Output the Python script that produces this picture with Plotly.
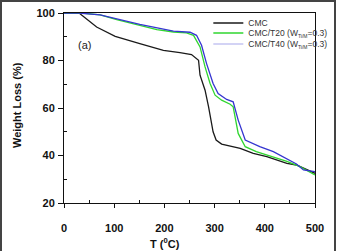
import plotly.graph_objects as go

# Data
cmc_T = [0, 30, 65, 102, 151, 198, 231, 254, 268, 271, 281, 288, 297, 303, 314, 351, 377, 404, 444, 463, 500]
cmc_W = [100, 100, 94.1, 90.2, 87.1, 84.3, 83.3, 82.5, 80.1, 73.8, 67.5, 60.5, 50.0, 46.5, 44.8, 43.0, 40.9, 39.5, 36.7, 36.0, 32.5]

t20_T = [0, 35, 72, 105, 151, 185, 218, 244, 258, 271, 281, 291, 301, 314, 331, 337, 347, 361, 383, 404, 444, 470, 500]
t20_W = [100, 100, 99.2, 97.2, 94.8, 93.0, 92.0, 91.6, 90.6, 85.7, 77.3, 70.3, 65.4, 63.3, 61.6, 60.5, 49.3, 43.7, 41.6, 40.2, 37.5, 35.3, 31.8]

t40_T = [0, 30, 72, 151, 218, 251, 264, 274, 284, 297, 307, 324, 337, 347, 361, 390, 417, 450, 463, 477, 500]
t40_W = [100, 100, 99.2, 95.2, 92.4, 91.9, 90.6, 86.4, 78.7, 70.3, 66.1, 63.6, 62.6, 54.9, 46.5, 43.7, 41.6, 38.1, 36.4, 33.9, 33.2]

sub = "<sub><span style='font-size:5px'>Ti/M</span></sub>"
names = ["CMC", "CMC/T20 (W" + sub + "=0.3)", "CMC/T40 (W" + sub + "=0.3)"]

W, H = 338, 251
ml, mr, mt, mb = 64, 23, 13, 48
pw, ph = W - ml - mr, H - mt - mb

fig = go.Figure()
fig.add_trace(go.Scatter(x=cmc_T, y=cmc_W, mode="lines", name=names[0], legend="legend",
                         line=dict(color="#1a1a1a", width=1.3)))
fig.add_trace(go.Scatter(x=t20_T, y=t20_W, mode="lines", name=names[1], legend="legend2",
                         line=dict(color="#2fd62f", width=1.3)))
fig.add_trace(go.Scatter(x=t40_T, y=t40_W, mode="lines", name=names[2], showlegend=False,
                         line=dict(color="#3535d0", width=1.3)))
# legend entry for T40 (pale line as in reference)
fig.add_trace(go.Scatter(x=[None], y=[None], mode="lines", name=names[2], legend="legend3",
                         line=dict(color="#c4c4f2", width=1.3)))

fig.add_annotation(x=40, y=86.5, text="(a)", showarrow=False,
                   font=dict(size=11, color="#222", family="Arial"))

# outer frame of the picture
fig.add_shape(type="rect", xref="paper", yref="paper",
              x0=-(ml - 1) / pw, x1=1 + (mr - 3) / pw,
              y0=-(mb + 5) / ph, y1=1 + (mt - 1) / ph,
              line=dict(color="#444", width=2), layer="below")

def leg(row_px):
    return dict(x=0.575, y=1 - (row_px - mt) / ph, xanchor="left", yanchor="middle",
                bgcolor="rgba(0,0,0,0)", font=dict(size=8.5, color="#333", family="Arial"),
                borderwidth=0)

bold = dict(size=11, family="Arial", color="#111", weight="bold")

fig.update_layout(
    width=W, height=H,
    margin=dict(l=ml, r=mr, t=mt, b=mb, autoexpand=False),
    paper_bgcolor="white", plot_bgcolor="white",
    font=dict(family="Arial", color="#111"),
    legend=leg(23), legend2=leg(33), legend3=leg(44),
    showlegend=True,
)
fig.update_xaxes(range=[0, 500], tickvals=[0, 100, 200, 300, 400, 500],
                 ticks="outside", ticklen=4, tickcolor="#111", linecolor="#111",
                 linewidth=1, mirror=True, showgrid=False, zeroline=False,
                 tickfont=bold, ticklabelstandoff=11, automargin=False,
                 minor=dict(tickvals=[50, 150, 250, 350, 450], ticks="inside",
                            ticklen=3, tickcolor="#111"))
fig.update_yaxes(range=[20, 100], tickvals=[20, 40, 60, 80, 100],
                 ticks="outside", ticklen=5, tickcolor="#111", linecolor="#111",
                 linewidth=1, mirror=True, showgrid=False, zeroline=False,
                 tickfont=bold, ticklabelstandoff=1, automargin=False,
                 minor=dict(tickvals=[30, 50, 70, 90], ticks="inside",
                            ticklen=3, tickcolor="#111"))

# axis titles placed at the reference positions
fig.add_annotation(xref="paper", yref="paper", x=(165 - ml) / pw, y=1 - (243 - mt) / ph,
                   text="T (<sup>0</sup>C)", showarrow=False, font=bold,
                   xanchor="center", yanchor="middle")
fig.add_annotation(xref="paper", yref="paper", x=(17 - ml) / pw, y=1 - (105 - mt) / ph,
                   text="Weight Loss (%)", showarrow=False, font=bold, textangle=-90,
                   xanchor="center", yanchor="middle")

fig.write_html("out.html")
